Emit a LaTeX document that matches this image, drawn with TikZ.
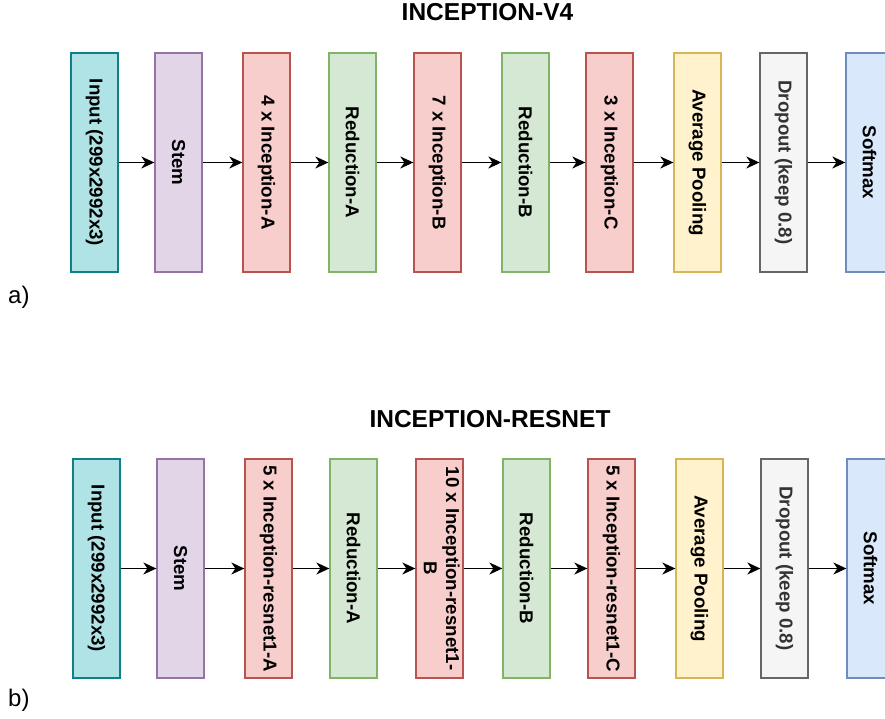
\documentclass[tikz,border=0pt]{standalone}
\usepackage{fontspec}
\setmainfont{Liberation Sans}
\usepackage{graphicx}
\usetikzlibrary{arrows.meta}

% block palette (fill / stroke)
\definecolor{inFill}{HTML}{B0E3E6}\definecolor{inLine}{HTML}{0E8088}
\definecolor{stFill}{HTML}{E1D5E7}\definecolor{stLine}{HTML}{9673A6}
\definecolor{icFill}{HTML}{F8CECC}\definecolor{icLine}{HTML}{B85450}
\definecolor{rdFill}{HTML}{D5E8D4}\definecolor{rdLine}{HTML}{82B366}
\definecolor{apFill}{HTML}{FFF2CC}\definecolor{apLine}{HTML}{D6B656}
\definecolor{doFill}{HTML}{F5F5F5}\definecolor{doLine}{HTML}{666666}
\definecolor{doText}{HTML}{333333}
\definecolor{smFill}{HTML}{DAE8FC}\definecolor{smLine}{HTML}{6C8EBF}

\newcommand{\vtext}[1]{\rotatebox{-90}{#1}}

\begin{document}
\begin{tikzpicture}[x=1pt,y=-1pt,
  blk/.style={draw, line width=1.3pt, minimum width=47pt, minimum height=219pt,
    inner sep=0pt, font=\fontsize{18.7}{22.2}\selectfont\bfseries, text=black},
  inp/.style={blk, fill=inFill, draw=inLine},
  stm/.style={blk, fill=stFill, draw=stLine},
  inc/.style={blk, fill=icFill, draw=icLine},
  red/.style={blk, fill=rdFill, draw=rdLine},
  avg/.style={blk, fill=apFill, draw=apLine},
  drp/.style={blk, fill=doFill, draw=doLine, text=doText},
  smx/.style={blk, fill=smFill, draw=smLine},
  flow/.style={-{Stealth[length=13pt,width=12pt,inset=4pt]}, line width=1.4pt, black},
  ttl/.style={font=\fontsize{24.5}{28}\selectfont\bfseries},
  tag/.style={font=\fontsize{24}{28}\selectfont, anchor=base west, inner sep=0pt}
]
\clip (0,0) rectangle (885,719);

% ---------- a) Inception-v4 ----------
\node[ttl] (t1) at (487.5,12) {INCEPTION-V4};
\node[inp] (a1)  at (94.5,162.5)  {\vtext{Input (299x2992x3)}};
\node[stm] (a2)  at (178.5,162.5) {\vtext{Stem}};
\node[inc] (a3)  at (266.5,162.5) {\vtext{4 x Inception-A}};
\node[red] (a4)  at (352.5,162.5) {\vtext{Reduction-A}};
\node[inc] (a5)  at (437.5,162.5) {\vtext{7 x Inception-B}};
\node[red] (a6)  at (525.5,162.5) {\vtext{Reduction-B}};
\node[inc] (a7)  at (609.5,162.5) {\vtext{3 x Inception-C}};
\node[avg] (a8)  at (697.5,162.5) {\vtext{Average Pooling}};
\node[drp] (a9)  at (783.5,162.5) {\vtext{Dropout (keep 0.8)}};
\node[smx] (a10) at (869.5,162.5) {\vtext{Softmax}};
\foreach \i/\j in {1/2,2/3,3/4,4/5,5/6,6/7,7/8,8/9,9/10}
  \draw[flow] (a\i.east) -- (a\j.west);
\node[tag] (la) at (8,303) {a)};

% ---------- b) Inception-ResNet ----------
\node[ttl] (t2) at (490,419) {INCEPTION-RESNET};
\node[inp] (b1)  at (96.5,568.5)  {\vtext{Input (299x2992x3)}};
\node[stm] (b2)  at (180.5,568.5) {\vtext{Stem}};
\node[inc] (b3)  at (268.5,568.5) {\vtext{5 x Inception-resnet1-A}};
\node[red] (b4)  at (353.5,568.5) {\vtext{Reduction-A}};
\node[inc] (b5)  at (439.5,568.5) {\vtext{\begin{tabular}{@{}c@{}}10 x Inception-resnet1-\\B\end{tabular}}};
\node[red] (b6)  at (526.5,568.5) {\vtext{Reduction-B}};
\node[inc] (b7)  at (611.5,568.5) {\vtext{5 x Inception-resnet1-C}};
\node[avg] (b8)  at (699.5,568.5) {\vtext{Average Pooling}};
\node[drp] (b9)  at (784.5,568.5) {\vtext{Dropout (keep 0.8)}};
\node[smx] (b10) at (870.5,568.5) {\vtext{Softmax}};
\foreach \i/\j in {1/2,2/3,3/4,4/5,5/6,6/7,7/8,8/9,9/10}
  \draw[flow] (b\i.east) -- (b\j.west);
\node[tag] (lb) at (8,706) {b)};
\end{tikzpicture}
\end{document}
